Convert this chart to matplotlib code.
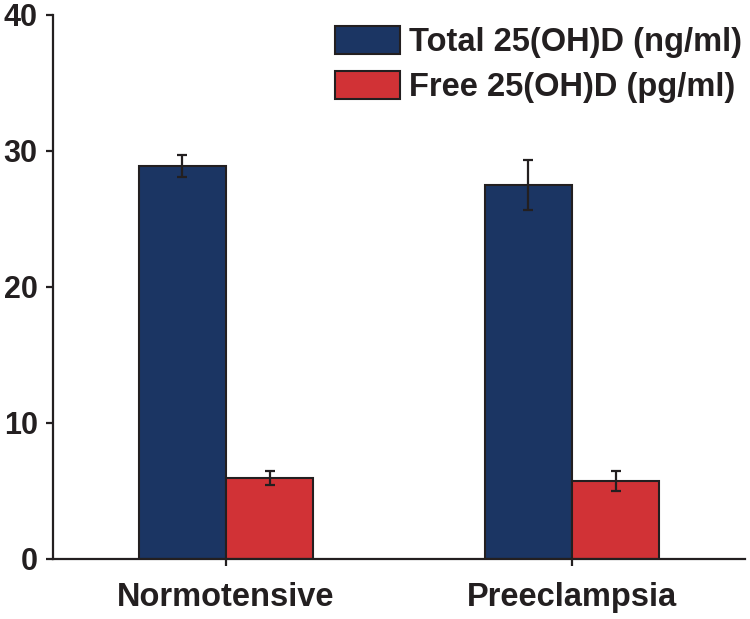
import numpy as np
import matplotlib.pyplot as plt
from matplotlib.patches import Patch

plt.rcParams['font.family'] = ['Liberation Sans', 'DejaVu Sans']
plt.rcParams['font.weight'] = 'bold'

groups = ['Normotensive', 'Preeclampsia']
total_vals = [28.9, 27.5]
total_err = [0.8, 1.85]
free_vals = [5.93, 5.71]
free_err = [0.5, 0.73]
series_labels = ['Total 25(OH)D (ng/ml)', 'Free 25(OH)D (pg/ml)']

navy = '#1b3563'
red = '#d13236'
dark = '#231f20'

fig = plt.figure(figsize=(7.5, 6.19), dpi=100)
ax = fig.add_axes([0.0707, 0.0974, 0.9226, 0.8789])

x = np.arange(len(groups))
w = 0.252
ax.bar(x - w / 2, total_vals, w, color=navy, edgecolor=dark, linewidth=1.5,
       yerr=total_err, error_kw=dict(ecolor=dark, elinewidth=1.6, capsize=3.5, capthick=1.6))
ax.bar(x + w / 2, free_vals, w, color=red, edgecolor=dark, linewidth=1.5,
       yerr=free_err, error_kw=dict(ecolor=dark, elinewidth=1.6, capsize=3.5, capthick=1.6))

ax.set_xlim(-0.5, 1.5)
ax.set_ylim(0, 40)
ax.set_yticks([0, 10, 20, 30, 40])
ax.set_xticks(x)
ax.set_xticklabels(groups, fontsize=23.5)

for side in ['top', 'right']:
    ax.spines[side].set_visible(False)
for side in ['left', 'bottom']:
    ax.spines[side].set_linewidth(1.6)
    ax.spines[side].set_color(dark)

ax.tick_params(axis='y', direction='out', length=5, width=1.6, color=dark,
               labelsize=22, labelcolor=dark, pad=6)
ax.tick_params(axis='x', direction='out', length=5, width=1.6, color=dark,
               labelcolor=dark, pad=12)

handles = [Patch(facecolor=navy, edgecolor=dark, linewidth=1.5),
           Patch(facecolor=red, edgecolor=dark, linewidth=1.5)]
leg = ax.legend(handles, series_labels, loc='upper right', bbox_to_anchor=(0.995, 0.98),
                frameon=False, fontsize=23.5, handlelength=2.0, handleheight=0.95,
                handletextpad=0.25, labelspacing=0.4, borderpad=0, borderaxespad=0)
for t in leg.get_texts():
    t.set_color(dark)

fig.savefig('out.png', dpi=100)
